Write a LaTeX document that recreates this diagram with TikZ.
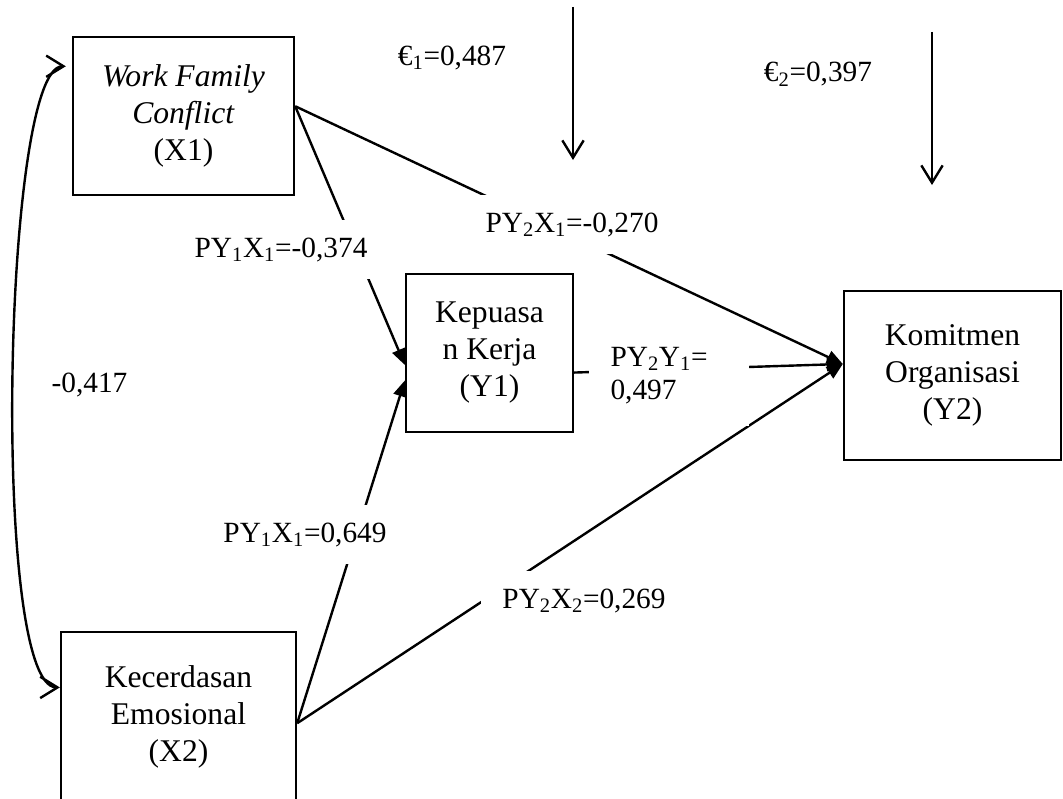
\documentclass[tikz,border=0pt]{standalone}
\usepackage{fontspec}
\setmainfont{Liberation Serif}
\usetikzlibrary{arrows.meta}

\begin{document}
\begin{tikzpicture}[x=0.75pt, y=-0.75pt, line width=1.8pt,
    var/.style={draw, align=center, inner sep=0pt,
      font=\fontsize{23.7pt}{27.75pt}\selectfont},
    coef/.style={fill=white, inner xsep=16pt, inner ysep=0pt,
      text height=28pt, text depth=16.5pt, anchor=base,
      font=\fontsize{22pt}{24.75pt}\selectfont},
    note/.style={inner sep=0pt, anchor=base,
      font=\fontsize{22pt}{24.75pt}\selectfont},
    path/.style={-{Triangle[length=12pt, width=10pt]}},
    err/.style={-{Straight Barb[length=13pt, width=16pt]}},
    cov/.style={{Straight Barb[length=13pt, width=16pt]}-{Straight Barb[length=13pt, width=16pt]}}]
  \useasboundingbox (0,0) rectangle (1063,799);
  \clip (0,0) rectangle (1063,799);

  % Variables
  \node[var, minimum width=165.75pt, minimum height=118.5pt] (x1) at (183.5,116)
    {\textit{Work Family}\\\textit{Conflict}\\(X1)};
  \node[var, minimum width=176.25pt, minimum height=127.5pt] (x2) at (178.5,717)
    {Kecerdasan\\Emosional\\(X2)};
  \node[var, minimum width=125.25pt, minimum height=118.5pt] (y1) at (489.5,353)
    {Kepuasa\\n Kerja\\(Y1)};
  \node[var, minimum width=162.75pt, minimum height=126.75pt] (y2) at (952.5,375.5)
    {Komitmen\\Organisasi\\(Y2)};

  % Error terms
  \coordinate (e1top) at (573,7);
  \coordinate (e1tip) at (573,160);
  \coordinate (e2top) at (932,32);
  \coordinate (e2tip) at (932,185);

  % Paths
  \draw[path] (x1.5) -- (y1.188);
  \draw[path] (x1.5) -- (y2.174);
  \draw[path] (x2.-3) -- (y1.198);
  \draw[path] (x2.-3) -- (y2.174);
  \draw[path] (y1.-13) -- (y2.174);
  \draw[err] (e1top) -- (e1tip);
  \draw[err] (e2top) -- (e2tip);
  \draw[cov, shorten >=4.5pt] (x2.166) .. controls +(-69,0) and +(-69,0) .. (x1.156);

  % Coefficients
  \node[coef] (p11) at (281,257) {PY\textsubscript{1}X\textsubscript{1}=-0,374};
  \node[coef] (p21) at (572,232) {PY\textsubscript{2}X\textsubscript{1}=-0,270};
  \node[coef] (p12) at (305,542) {PY\textsubscript{1}X\textsubscript{1}=0,649};
  \node[coef] (p22) at (584,608) {PY\textsubscript{2}X\textsubscript{2}=0,269};
  \node[coef, anchor=west, text height=, text depth=, inner ysep=16pt,
    text width=88pt, align=left] (p2y) at (588,376)
    {PY\textsubscript{2}Y\textsubscript{1}=\\0,497};
  \node[note] (r12) at (89.5,392) {-0,417};
  \node[note] (e1) at (452,65) {€\textsubscript{1}=0,487};
  \node[note] (e2) at (818,82) {€\textsubscript{2}=0,397};
\end{tikzpicture}
\end{document}
